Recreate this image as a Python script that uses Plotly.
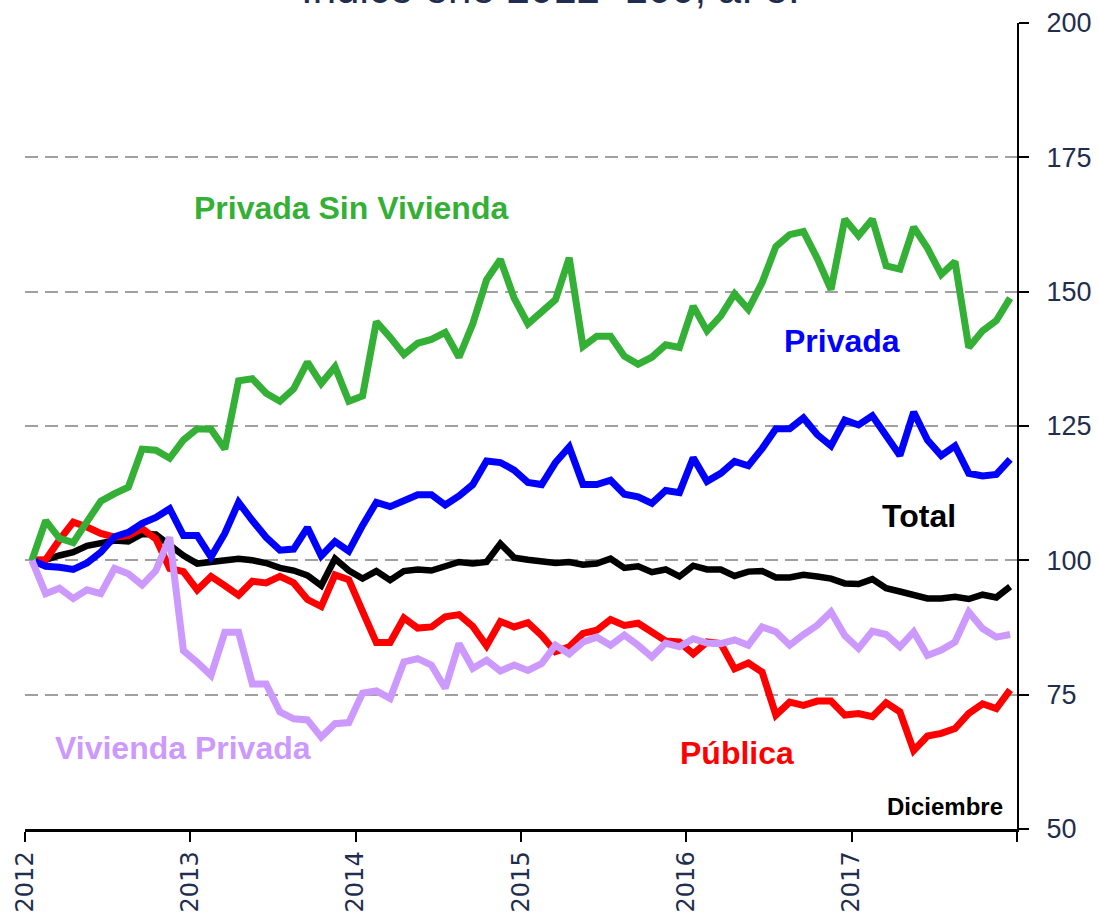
import plotly.graph_objects as go

years = ["2012", "2013", "2014", "2015", "2016", "2017", ""]
months = list(range(72))

privada_sin_vivienda = [100, 107.4, 104.1, 103.3, 107.2, 111.0, 112.4, 113.6, 120.7, 120.5, 119.0, 122.4,
                        124.5, 124.4, 120.7, 133.4, 133.8, 131.1, 129.6, 131.9, 136.9, 132.9, 136.0, 129.6,
                        130.6, 144.4, 141.5, 138.3, 140.4, 141.1, 142.4, 137.8, 144.0, 152.2, 156.0, 148.8,
                        144.0, 146.3, 148.5, 156.3, 139.8, 141.7, 141.7, 138.0, 136.5, 137.8, 140.1, 139.6,
                        147.3, 142.7, 145.5, 149.6, 146.7, 151.7, 158.4, 160.6, 161.2, 156.2, 150.4, 163.5,
                        160.4, 163.5, 154.8, 154.2, 162.0, 158.1, 153.2, 155.6, 139.6, 142.7, 144.6, 148.8]

privada = [100, 98.9, 98.7, 98.3, 99.5, 101.5, 104.4, 105.2, 106.9, 108.0, 109.6, 104.6,
           104.6, 100.6, 105.0, 110.8, 107.4, 104.3, 101.9, 102.1, 106.1, 100.8, 103.5, 101.7,
           106.5, 110.8, 110.0, 111.2, 112.2, 112.2, 110.3, 112.0, 114.1, 118.5, 118.2, 116.8,
           114.5, 114.1, 118.2, 121.1, 114.1, 114.1, 114.9, 112.3, 111.8, 110.6, 113.0, 112.6,
           119.1, 114.7, 116.2, 118.4, 117.6, 120.8, 124.5, 124.5, 126.5, 123.4, 121.3, 126.1,
           125.2, 126.9, 123.1, 119.5, 127.6, 122.4, 119.5, 121.3, 116.2, 115.7, 116.0, 118.8]

total = [100, 100.1, 100.9, 101.5, 102.7, 103.3, 103.7, 103.5, 104.9, 104.8, 102.7, 100.9,
         99.4, 99.7, 100.0, 100.3, 100.0, 99.5, 98.6, 98.1, 97.2, 95.3, 100.3, 98.1,
         96.6, 98.0, 96.3, 98.0, 98.3, 98.1, 98.9, 99.7, 99.4, 99.7, 103.1, 100.5,
         100.1, 99.8, 99.5, 99.7, 99.2, 99.4, 100.3, 98.6, 98.9, 97.8, 98.3, 97.0,
         99.0, 98.3, 98.3, 97.1, 97.9, 98.0, 96.8, 96.8, 97.3, 97.0, 96.6, 95.7,
         95.6, 96.5, 94.8, 94.2, 93.6, 92.9, 92.9, 93.2, 92.8, 93.6, 93.1, 95.1]

publica = [100, 100.1, 103.8, 107.1, 106.2, 105.0, 104.3, 104.6, 105.9, 104.0, 98.5, 97.9,
           94.5, 97.0, 95.3, 93.5, 96.1, 95.8, 97.0, 95.8, 92.7, 91.4, 97.3, 96.4,
           90.5, 84.7, 84.7, 89.3, 87.4, 87.6, 89.5, 89.9, 87.7, 84.1, 88.6, 87.6,
           88.4, 86.0, 83.0, 83.9, 86.4, 87.0, 89.0, 87.9, 88.3, 86.7, 85.0, 84.8,
           82.6, 84.8, 84.5, 79.8, 80.9, 79.2, 71.2, 73.6, 73.0, 73.8, 73.8, 71.2,
           71.5, 70.9, 73.5, 71.8, 64.6, 67.3, 67.8, 68.7, 71.5, 73.3, 72.4, 75.9]

vivienda_privada = [100, 93.8, 94.8, 92.9, 94.5, 93.8, 98.5, 97.5, 95.4, 98.1, 104.3, 83.2,
                    81.0, 78.6, 86.6, 86.6, 77.0, 77.0, 71.8, 70.5, 70.3, 67.1, 69.6, 69.8,
                    75.3, 75.7, 74.3, 81.1, 81.7, 80.5, 76.2, 84.5, 79.9, 81.4, 79.4, 80.5,
                    79.5, 80.8, 84.2, 82.6, 84.8, 85.7, 84.2, 86.1, 84.2, 82.0, 84.6, 83.9,
                    85.4, 84.6, 84.5, 85.2, 84.2, 87.6, 86.7, 84.2, 86.2, 87.9, 90.4, 86.0,
                    83.6, 86.8, 86.2, 83.9, 86.7, 82.3, 83.3, 84.8, 90.4, 87.3, 85.7, 86.2]

y_ticks = [50, 75, 100, 125, 150, 175, 200]

x = [m + 0.5 for m in months]

series = [
    ("Total", total, "#000000", 6.5),
    ("Pública", publica, "#FF0000", 7),
    ("Privada", privada, "#0000FF", 7),
    ("Privada Sin Vivienda", privada_sin_vivienda, "#33B035", 7),
    ("Vivienda Privada", vivienda_privada, "#CC99FF", 7),
]

fig = go.Figure()
for name, vals, color, w in series:
    fig.add_trace(go.Scatter(x=x, y=vals, mode="lines", name=name,
                             line=dict(color=color, width=w), showlegend=False))

lab_font = "Liberation Sans, Arial, sans-serif"
labels = [
    ("Privada Sin Vivienda", 23.66, 165.5, "#33B035", 32, "center"),
    ("Privada", 59.3, 140.8, "#0000FF", 32, "center"),
    ("Total", 64.9, 108.2, "#000000", 32, "center"),
    ("Vivienda Privada", 11.5, 65.0, "#CC99FF", 32, "center"),
    ("Pública", 51.7, 64.1, "#FF0000", 32, "center"),
    ("Diciembre", 71.1, 54.2, "#000000", 24, "right"),
]
for txt, lx, ly, col, sz, anc in labels:
    fig.add_annotation(x=lx, y=ly, xref="x", yref="y", text="<b>%s</b>" % txt,
                       showarrow=False, xanchor=anc, yanchor="middle",
                       font=dict(family=lab_font, size=sz, color=col))

fig.add_annotation(x=0.53, y=1.011, xref="paper", yref="paper", text="Índice ene 2012=100, a. e.",
                   showarrow=False, xanchor="center", yanchor="bottom",
                   font=dict(family=lab_font, size=42, color="#1F2E4E"))

fig.update_xaxes(range=[0, 72], tickmode="array", tickvals=[0, 12, 24, 36, 48, 60, 72],
                 ticktext=years, tickangle=-90, automargin=False,
                 tickfont=dict(family="DejaVu Sans", size=24, color="#1F2E4E"),
                 showline=True, linecolor="#000000", linewidth=2.5,
                 ticks="outside", ticklen=10, tickwidth=2, tickcolor="#000000",
                 showgrid=False, zeroline=False)

fig.update_yaxes(range=[50, 200], tickmode="array", tickvals=y_ticks, side="right",
                 automargin=False,
                 tickfont=dict(family=lab_font, size=27, color="#1F2E4E"),
                 showline=True, linecolor="#000000", linewidth=2,
                 ticks="outside", ticklen=10, tickwidth=2, tickcolor="#000000",
                 ticklabelstandoff=12,
                 showgrid=True, gridcolor="#A0A0A0", gridwidth=2, griddash="13px,7px",
                 zeroline=False)

fig.update_layout(width=1099, height=915,
                  margin=dict(l=25, r=82, t=23, b=86),
                  plot_bgcolor="white", paper_bgcolor="white")

fig.write_html("out.html", config={"displayModeBar": False},
               post_script="document.body.style.margin='0';")
